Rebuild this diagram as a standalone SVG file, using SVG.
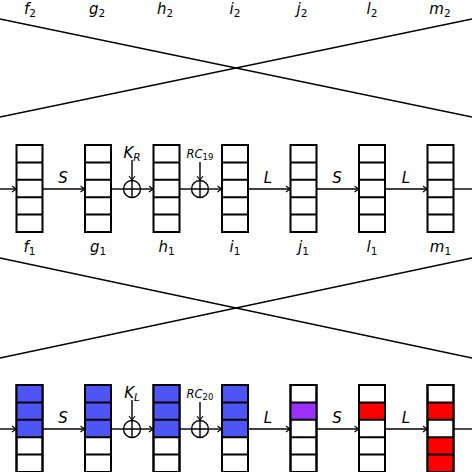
<svg xmlns="http://www.w3.org/2000/svg" width="472" height="472" viewBox="0 0 472 472">
<defs>
<marker id="ah" markerWidth="8" markerHeight="8" refX="6" refY="4" orient="auto" markerUnits="userSpaceOnUse">
<path d="M1.5,1 Q4,3 6,4 Q4,5 1.5,7" fill="none" stroke="#000" stroke-width="1.1"/>
</marker>
</defs>
<style>
.bx{fill:#fff;stroke:#000;stroke-width:2}
.dv{stroke:#000;stroke-width:2}
.ln{stroke:#000;stroke-width:1.4;fill:none}
.ar{stroke:#000;stroke-width:1.4;fill:none;marker-end:url(#ah)}
.t{font-family:"DejaVu Sans","Liberation Sans",sans-serif;font-style:italic;font-size:15px;fill:#000}
.tc{text-anchor:middle}
.sub{font-size:10.5px;font-style:normal}
.subi{font-size:10.5px;font-style:italic}
.st{font-size:11.5px}
.bl{fill:#4d55f5}
.rd{fill:#ff0000}
.vi{fill:#9b30ff}
</style>

<g id="connectors">
<line class="ln" x1="0" y1="19" x2="472" y2="117"/>
<line class="ln" x1="0" y1="117" x2="472" y2="19"/>
<line class="ln" x1="0" y1="258" x2="472" y2="358"/>
<line class="ln" x1="0" y1="358" x2="472" y2="258"/>
<line class="ar" x1="0" y1="189" x2="16.5" y2="189"/>
<line class="ar" x1="42.5" y1="189" x2="85" y2="189"/>
<line class="ln" x1="111" y1="189" x2="123.5" y2="189"/>
<line class="ar" x1="140.5" y1="189" x2="153.5" y2="189"/>
<line class="ar" x1="132" y1="160" x2="132" y2="180.5"/>
<line class="ln" x1="179.5" y1="189" x2="191.5" y2="189"/>
<line class="ar" x1="208.5" y1="189" x2="222" y2="189"/>
<line class="ar" x1="200" y1="162" x2="200" y2="180.5"/>
<line class="ar" x1="248" y1="189" x2="290.5" y2="189"/>
<line class="ar" x1="316.5" y1="189" x2="359" y2="189"/>
<line class="ar" x1="385" y1="189" x2="427.5" y2="189"/>
<line class="ln" x1="453.5" y1="189" x2="472" y2="189"/>
<line class="ar" x1="0" y1="429" x2="16.5" y2="429"/>
<line class="ar" x1="42.5" y1="429" x2="85" y2="429"/>
<line class="ln" x1="111" y1="429" x2="123.5" y2="429"/>
<line class="ar" x1="140.5" y1="429" x2="153.5" y2="429"/>
<line class="ar" x1="132" y1="400" x2="132" y2="420.5"/>
<line class="ln" x1="179.5" y1="429" x2="191.5" y2="429"/>
<line class="ar" x1="208.5" y1="429" x2="222" y2="429"/>
<line class="ar" x1="200" y1="402" x2="200" y2="420.5"/>
<line class="ar" x1="248" y1="429" x2="290.5" y2="429"/>
<line class="ar" x1="316.5" y1="429" x2="359" y2="429"/>
<line class="ar" x1="385" y1="429" x2="427.5" y2="429"/>
<line class="ln" x1="453.5" y1="429" x2="472" y2="429"/>
</g>

<g id="labels-top">
<text class="t tc" x="30" y="13.5">f<tspan class="sub" dy="3">2</tspan></text>
<text class="t tc" x="97" y="13.5">g<tspan class="sub" dy="3">2</tspan></text>
<text class="t tc" x="165" y="13.5">h<tspan class="sub" dy="3">2</tspan></text>
<text class="t tc" x="235" y="13.5">i<tspan class="sub" dy="3">2</tspan></text>
<text class="t tc" x="302" y="13.5">j<tspan class="sub" dy="3">2</tspan></text>
<text class="t tc" x="372" y="13.5">l<tspan class="sub" dy="3">2</tspan></text>
<text class="t tc" x="440" y="13.5">m<tspan class="sub" dy="3">2</tspan></text>
</g>

<g id="op-labels">
<text class="t tc" x="63" y="183">S</text>
<text class="t tc" x="268" y="183">L</text>
<text class="t tc" x="337" y="183">S</text>
<text class="t tc" x="406" y="183">L</text>
<text class="t tc" x="132" y="158">K<tspan class="subi" dy="3">R</tspan></text>
<text class="t tc st" x="200" y="158">RC<tspan class="sub" style="font-size:8.5px" dy="2">19</tspan></text>
<text class="t tc" x="63" y="423">S</text>
<text class="t tc" x="268" y="423">L</text>
<text class="t tc" x="337" y="423">S</text>
<text class="t tc" x="406" y="423">L</text>
<text class="t tc" x="132" y="398">K<tspan class="subi" dy="3">L</tspan></text>
<text class="t tc st" x="200" y="398">RC<tspan class="sub" style="font-size:8.5px" dy="2">20</tspan></text>
</g>

<g id="xor-r1">
<circle cx="132" cy="189" r="8.5" fill="#fff" stroke="#000" stroke-width="1.4"/>
<path d="M123.5,189H140.5M132,180.5V197.5" class="ln"/>
</g>
<g id="xor-rc19">
<circle cx="200" cy="189" r="8.5" fill="#fff" stroke="#000" stroke-width="1.4"/>
<path d="M191.5,189H208.5M200,180.5V197.5" class="ln"/>
</g>
<g id="xor-r3">
<circle cx="132" cy="429" r="8.5" fill="#fff" stroke="#000" stroke-width="1.4"/>
<path d="M123.5,429H140.5M132,420.5V437.5" class="ln"/>
</g>
<g id="xor-rc20">
<circle cx="200" cy="429" r="8.5" fill="#fff" stroke="#000" stroke-width="1.4"/>
<path d="M191.5,429H208.5M200,420.5V437.5" class="ln"/>
</g>

<g id="f1"><rect class="bx" x="16.5" y="145" width="26" height="87"/><path class="dv" d="M16.5,162.4h26M16.5,179.8h26M16.5,197.2h26M16.5,214.6h26"/><text class="t tc" x="29.5" y="252">f<tspan class="sub" dy="3">1</tspan></text></g>
<g id="g1"><rect class="bx" x="85" y="145" width="26" height="87"/><path class="dv" d="M85,162.4h26M85,179.8h26M85,197.2h26M85,214.6h26"/><text class="t tc" x="98" y="252">g<tspan class="sub" dy="3">1</tspan></text></g>
<g id="h1"><rect class="bx" x="153.5" y="145" width="26" height="87"/><path class="dv" d="M153.5,162.4h26M153.5,179.8h26M153.5,197.2h26M153.5,214.6h26"/><text class="t tc" x="166.5" y="252">h<tspan class="sub" dy="3">1</tspan></text></g>
<g id="i1"><rect class="bx" x="222" y="145" width="26" height="87"/><path class="dv" d="M222,162.4h26M222,179.8h26M222,197.2h26M222,214.6h26"/><text class="t tc" x="235" y="252">i<tspan class="sub" dy="3">1</tspan></text></g>
<g id="j1"><rect class="bx" x="290.5" y="145" width="26" height="87"/><path class="dv" d="M290.5,162.4h26M290.5,179.8h26M290.5,197.2h26M290.5,214.6h26"/><text class="t tc" x="303.5" y="252">j<tspan class="sub" dy="3">1</tspan></text></g>
<g id="l1"><rect class="bx" x="359" y="145" width="26" height="87"/><path class="dv" d="M359,162.4h26M359,179.8h26M359,197.2h26M359,214.6h26"/><text class="t tc" x="372" y="252">l<tspan class="sub" dy="3">1</tspan></text></g>
<g id="m1"><rect class="bx" x="427.5" y="145" width="26" height="87"/><path class="dv" d="M427.5,162.4h26M427.5,179.8h26M427.5,197.2h26M427.5,214.6h26"/><text class="t tc" x="440.5" y="252">m<tspan class="sub" dy="3">1</tspan></text></g>

<g id="f0"><rect class="bx" x="16.5" y="385" width="26" height="87"/><rect class="bl" x="16.5" y="385" width="26" height="52.2"/><rect x="16.5" y="385" width="26" height="87" fill="none" stroke="#000" stroke-width="2"/><path class="dv" d="M16.5,402.4h26M16.5,419.8h26M16.5,437.2h26M16.5,454.6h26"/></g>
<g id="g0"><rect class="bx" x="85" y="385" width="26" height="87"/><rect class="bl" x="85" y="385" width="26" height="52.2"/><rect x="85" y="385" width="26" height="87" fill="none" stroke="#000" stroke-width="2"/><path class="dv" d="M85,402.4h26M85,419.8h26M85,437.2h26M85,454.6h26"/></g>
<g id="h0"><rect class="bx" x="153.5" y="385" width="26" height="87"/><rect class="bl" x="153.5" y="385" width="26" height="52.2"/><rect x="153.5" y="385" width="26" height="87" fill="none" stroke="#000" stroke-width="2"/><path class="dv" d="M153.5,402.4h26M153.5,419.8h26M153.5,437.2h26M153.5,454.6h26"/></g>
<g id="i0"><rect class="bx" x="222" y="385" width="26" height="87"/><rect class="bl" x="222" y="385" width="26" height="52.2"/><rect x="222" y="385" width="26" height="87" fill="none" stroke="#000" stroke-width="2"/><path class="dv" d="M222,402.4h26M222,419.8h26M222,437.2h26M222,454.6h26"/></g>
<g id="j0"><rect class="bx" x="290.5" y="385" width="26" height="87"/><rect class="vi" x="290.5" y="402.4" width="26" height="17.4"/><rect x="290.5" y="385" width="26" height="87" fill="none" stroke="#000" stroke-width="2"/><path class="dv" d="M290.5,402.4h26M290.5,419.8h26M290.5,437.2h26M290.5,454.6h26"/></g>
<g id="l0"><rect class="bx" x="359" y="385" width="26" height="87"/><rect class="rd" x="359" y="402.4" width="26" height="17.4"/><rect x="359" y="385" width="26" height="87" fill="none" stroke="#000" stroke-width="2"/><path class="dv" d="M359,402.4h26M359,419.8h26M359,437.2h26M359,454.6h26"/></g>
<g id="m0"><rect class="bx" x="427.5" y="385" width="26" height="87"/><rect class="rd" x="427.5" y="402.4" width="26" height="17.4"/><rect class="rd" x="427.5" y="437.2" width="26" height="34.8"/><rect x="427.5" y="385" width="26" height="87" fill="none" stroke="#000" stroke-width="2"/><path class="dv" d="M427.5,402.4h26M427.5,419.8h26M427.5,437.2h26M427.5,454.6h26"/></g>
</svg>
